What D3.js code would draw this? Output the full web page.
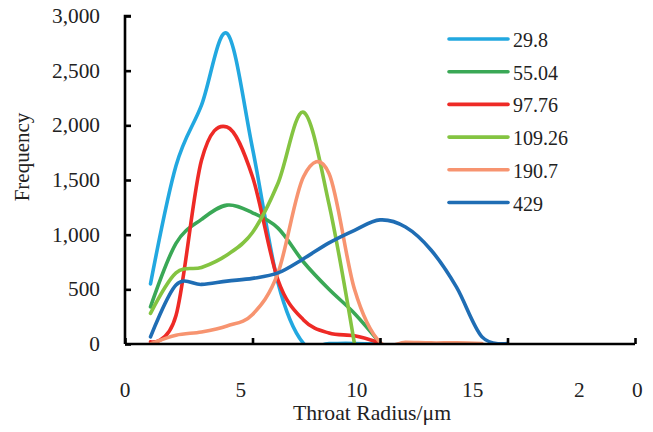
<!DOCTYPE html>
<html><head><meta charset="utf-8">
<script src="https://cdn.jsdelivr.net/npm/d3@7"></script>
<style>body{margin:0;background:#fff}svg{display:block}</style>
</head><body>
<svg id="c" width="653" height="432"></svg>
<script>
const radius = [1.1,2.2,3.3,4.4,5.5,6.6,7.7,8.8,9.9,11,12.1,13.2,14.3,15.4,16.5];
const seriesNames = ["29.8","55.04","97.76","109.26","190.7","429"];
const s29_8   = [550,1630,2185,2840,1790,560,5,5,5,0];
const s55_04  = [340,920,1140,1270,1200,1060,750,500,280,10];
const s97_76  = [20,260,1680,1985,1530,585,220,100,75,10];
const s109_26 = [280,650,700,815,1020,1470,2120,1280,0];
const s190_7  = [0,80,110,165,270,650,1530,1560,500,15,15,10,10,5];
const s429    = [65,540,545,575,600,650,780,925,1040,1135,1070,860,520,65,5];
const seriesValues = [s29_8,s55_04,s97_76,s109_26,s190_7,s429];
const colors = ["#22a8e0","#3aa856","#ee2a26","#84c441","#f79470","#1f6db4"];
const yTicks = [0,500,1000,1500,2000,2500,3000];
const xTickMarks = [0,5.5,11,16.5,22];
const xTickLabels = ["0","5","10","15","2","0"];
const xTickLabelPos = [0,5,10,15,19.6,22.1];

const FONT = "'Liberation Serif', 'Times New Roman', serif";
const svg = d3.select("#c");
const x = d3.scaleLinear().domain([0,22]).range([125,635]);
const y = d3.scaleLinear().domain([0,3000]).range([344,16]);

svg.append("defs").append("clipPath").attr("id","pc")
  .append("rect").attr("x",x(0)).attr("y",0).attr("width",x(22)-x(0)+2).attr("height",y(0));

const line = d3.line().x((d,i)=>x(radius[i])).y(d=>y(d)).curve(d3.curveCardinal.tension(0));
const g = svg.append("g").attr("clip-path","url(#pc)");
seriesValues.forEach((vals,k)=>{
  g.append("path").attr("d",line(vals)).attr("fill","none")
   .attr("stroke",colors[k]).attr("stroke-width",3.6).attr("stroke-linejoin","round").attr("stroke-linecap","round");
});

// Y axis
const yAxis = d3.axisRight(y).tickValues(yTicks).tickSize(6).tickFormat("");
const ya = svg.append("g").attr("transform",`translate(${x(0)},0)`).call(yAxis);
ya.select(".domain").attr("d",`M6,${y(3000)}H0V${y(0)}`);
ya.selectAll("path,line").attr("stroke","#000").attr("stroke-width",2.6);
svg.append("g").selectAll("text").data(yTicks).join("text")
  .attr("x",100).attr("y",d=>y(d)+7).attr("text-anchor","end")
  .attr("font-family",FONT).attr("font-size",21.3).attr("fill","#222")
  .text(d=>d3.format(",")(d));

// X axis
const xAxis = d3.axisTop(x).tickValues(xTickMarks).tickSize(6).tickFormat("");
const xa = svg.append("g").attr("transform",`translate(0,${y(0)})`).call(xAxis);
xa.select(".domain").attr("d",`M${x(0)},0H${x(22)}`);
xa.selectAll("path,line").attr("stroke","#000").attr("stroke-width",2.6);
svg.append("g").selectAll("text").data(xTickLabels).join("text")
  .attr("x",(d,i)=>x(xTickLabelPos[i])).attr("y",397).attr("text-anchor","middle")
  .attr("font-family",FONT).attr("font-size",21.3).attr("fill","#222")
  .text(d=>d);

// Titles
svg.append("text").attr("x",372).attr("y",420).attr("text-anchor","middle")
  .attr("font-family",FONT).attr("font-size",21.7).attr("fill","#222").text("Throat Radius/μm");
svg.append("text").attr("transform","translate(29,157) rotate(-90)").attr("text-anchor","middle")
  .attr("font-family",FONT).attr("font-size",21).attr("fill","#222").text("Frequency");

// Legend
const lg = svg.append("g");
seriesNames.forEach((n,k)=>{
  const yy = 39 + k*32.7;
  lg.append("line").attr("x1",449).attr("x2",508).attr("y1",yy).attr("y2",yy)
    .attr("stroke",colors[k]).attr("stroke-width",3.6).attr("stroke-linecap","round");
  lg.append("text").attr("x",513).attr("y",yy+8)
    .attr("font-family",FONT).attr("font-size",20).attr("fill","#222").text(n);
});
</script>
</body></html>
